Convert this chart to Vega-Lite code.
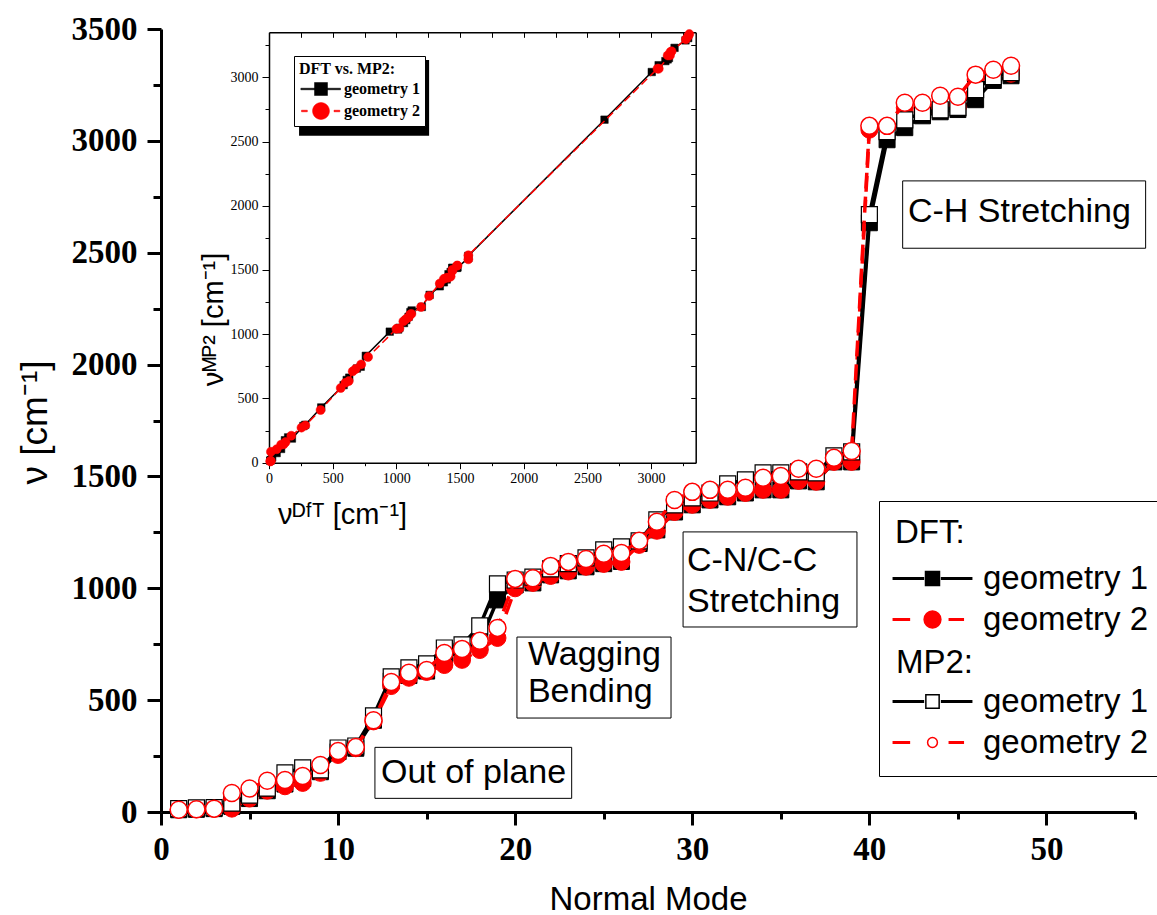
{
  "$schema": "https://vega.github.io/schema/vega-lite/v6.json",
  "width": 974,
  "height": 783,
  "autosize": "none",
  "padding": {"left": 161, "top": 29, "right": 22, "bottom": 103},
  "background": "white",
  "config": {"view": {"stroke": null}, "font": "Liberation Sans"},
  "data": {
    "values": [
      {"mode": 1, "dft1": 10, "dft2": 10, "mp21": 15, "mp22": 10},
      {"mode": 2, "dft1": 12, "dft2": 12, "mp21": 18, "mp22": 12},
      {"mode": 3, "dft1": 15, "dft2": 14, "mp21": 20, "mp22": 15},
      {"mode": 4, "dft1": 25, "dft2": 15, "mp21": 40, "mp22": 85},
      {"mode": 5, "dft1": 60, "dft2": 60, "mp21": 75, "mp22": 105},
      {"mode": 6, "dft1": 95, "dft2": 95, "mp21": 107, "mp22": 140},
      {"mode": 7, "dft1": 125, "dft2": 115, "mp21": 175, "mp22": 143},
      {"mode": 8, "dft1": 150, "dft2": 130, "mp21": 197, "mp22": 161},
      {"mode": 9, "dft1": 180, "dft2": 175, "mp21": 188, "mp22": 210},
      {"mode": 10, "dft1": 270, "dft2": 255, "mp21": 286, "mp22": 273},
      {"mode": 11, "dft1": 285, "dft2": 285, "mp21": 295, "mp22": 290},
      {"mode": 12, "dft1": 410, "dft2": 405, "mp21": 430, "mp22": 410},
      {"mode": 13, "dft1": 586, "dft2": 563, "mp21": 604, "mp22": 581},
      {"mode": 14, "dft1": 610, "dft2": 600, "mp21": 644, "mp22": 622},
      {"mode": 15, "dft1": 630, "dft2": 626, "mp21": 662, "mp22": 635},
      {"mode": 16, "dft1": 690, "dft2": 657, "mp21": 733, "mp22": 711},
      {"mode": 17, "dft1": 720, "dft2": 680, "mp21": 747, "mp22": 729},
      {"mode": 18, "dft1": 760, "dft2": 724, "mp21": 832, "mp22": 765},
      {"mode": 19, "dft1": 948, "dft2": 778, "mp21": 1020, "mp22": 823},
      {"mode": 20, "dft1": 1015, "dft2": 1000, "mp21": 1037, "mp22": 1042},
      {"mode": 21, "dft1": 1024, "dft2": 1024, "mp21": 1050, "mp22": 1045},
      {"mode": 22, "dft1": 1060, "dft2": 1055, "mp21": 1087, "mp22": 1100},
      {"mode": 23, "dft1": 1078, "dft2": 1075, "mp21": 1110, "mp22": 1118},
      {"mode": 24, "dft1": 1096, "dft2": 1096, "mp21": 1136, "mp22": 1131},
      {"mode": 25, "dft1": 1110, "dft2": 1109, "mp21": 1172, "mp22": 1154},
      {"mode": 26, "dft1": 1120, "dft2": 1118, "mp21": 1185, "mp22": 1158},
      {"mode": 27, "dft1": 1200, "dft2": 1194, "mp21": 1212, "mp22": 1212},
      {"mode": 28, "dft1": 1261, "dft2": 1257, "mp21": 1306, "mp22": 1297},
      {"mode": 29, "dft1": 1341, "dft2": 1341, "mp21": 1373, "mp22": 1395},
      {"mode": 30, "dft1": 1373, "dft2": 1373, "mp21": 1404, "mp22": 1431},
      {"mode": 31, "dft1": 1395, "dft2": 1395, "mp21": 1426, "mp22": 1440},
      {"mode": 32, "dft1": 1409, "dft2": 1409, "mp21": 1467, "mp22": 1440},
      {"mode": 33, "dft1": 1426, "dft2": 1426, "mp21": 1485, "mp22": 1449},
      {"mode": 34, "dft1": 1440, "dft2": 1440, "mp21": 1516, "mp22": 1494},
      {"mode": 35, "dft1": 1440, "dft2": 1440, "mp21": 1516, "mp22": 1502},
      {"mode": 36, "dft1": 1480, "dft2": 1480, "mp21": 1520, "mp22": 1534},
      {"mode": 37, "dft1": 1476, "dft2": 1476, "mp21": 1516, "mp22": 1534},
      {"mode": 38, "dft1": 1565, "dft2": 1565, "mp21": 1592, "mp22": 1583},
      {"mode": 39, "dft1": 1565, "dft2": 1565, "mp21": 1610, "mp22": 1614},
      {"mode": 40, "dft1": 2634, "dft2": 3050, "mp21": 2670, "mp22": 3067},
      {"mode": 41, "dft1": 3005, "dft2": 3060, "mp21": 3041, "mp22": 3067},
      {"mode": 42, "dft1": 3059, "dft2": 3148, "mp21": 3094, "mp22": 3170},
      {"mode": 43, "dft1": 3112, "dft2": 3130, "mp21": 3126, "mp22": 3170},
      {"mode": 44, "dft1": 3130, "dft2": 3161, "mp21": 3139, "mp22": 3202},
      {"mode": 45, "dft1": 3140, "dft2": 3152, "mp21": 3150, "mp22": 3197},
      {"mode": 46, "dft1": 3184, "dft2": 3273, "mp21": 3229, "mp22": 3296},
      {"mode": 47, "dft1": 3270, "dft2": 3290, "mp21": 3287, "mp22": 3318},
      {"mode": 48, "dft1": 3291, "dft2": 3300, "mp21": 3305, "mp22": 3336}
    ]
  },
  "layer": [
    {
      "transform": [{"fold": ["dft1", "dft2", "mp21", "mp22"], "as": ["series", "freq"]}],
      "encoding": {
        "x": {
          "field": "mode", "type": "quantitative",
          "scale": {"domain": [0, 55], "nice": false, "zero": false},
          "axis": {
            "orient": "bottom", "title": "Normal Mode", "grid": false,
            "values": [0, 5, 10, 15, 20, 25, 30, 35, 40, 45, 50, 55],
            "labelExpr": "datum.value % 10 === 0 ? datum.label : ''",
            "format": "d",
            "tickSize": {"condition": {"test": "datum.value % 10 === 0", "value": 13}, "value": 7},
            "tickWidth": 3, "tickColor": "black", "domainWidth": 3, "domainColor": "black",
            "labelFont": "Liberation Serif", "labelFontWeight": "bold", "labelFontSize": 33, "labelColor": "black",
            "labelPadding": 8, "labelFlush": false, "labelOverlap": false,
            "titleFont": "Liberation Sans", "titleFontSize": 33, "titleFontWeight": "normal", "titleColor": "black",
            "titleX": 487, "titleY": 97, "titleBaseline": "alphabetic", "titleAlign": "center"
          }
        },
        "y": {
          "field": "freq", "type": "quantitative",
          "scale": {"domain": [0, 3500], "nice": false, "zero": false},
          "axis": {
            "orient": "left", "title": "ν [cm⁻¹]", "grid": false,
            "values": [0, 250, 500, 750, 1000, 1250, 1500, 1750, 2000, 2250, 2500, 2750, 3000, 3250, 3500],
            "labelExpr": "datum.value % 500 === 0 ? datum.label : ''",
            "format": "d",
            "tickSize": {"condition": {"test": "datum.value % 500 === 0", "value": 14}, "value": 8},
            "tickWidth": 3, "tickColor": "black", "domainWidth": 3, "domainColor": "black",
            "labelFont": "Liberation Serif", "labelFontWeight": "bold", "labelFontSize": 33, "labelColor": "black",
            "labelPadding": 10, "labelFlush": false, "labelOverlap": false,
            "titleFont": "Liberation Sans", "titleFontSize": 37, "titleFontWeight": "normal", "titleColor": "black",
            "titleX": -115, "titleY": 393, "titleAngle": 270, "titleBaseline": "alphabetic", "titleAlign": "center"
          }
        }
      },
      "layer": [
        {
          "transform": [{"filter": "datum.series === 'dft1'"}],
          "mark": {"type": "line", "stroke": "black", "strokeWidth": 3.5}
        },
        {
          "transform": [{"filter": "datum.series === 'dft1'"}],
          "mark": {"type": "point", "shape": "square", "size": 256, "fill": "black", "stroke": "black", "strokeWidth": 1, "opacity": 1}
        },
        {
          "transform": [{"filter": "datum.series === 'dft2'"}],
          "mark": {"type": "line", "stroke": "#ff0000", "strokeWidth": 3.5, "strokeDash": [16, 8]}
        },
        {
          "transform": [{"filter": "datum.series === 'dft2'"}],
          "mark": {"type": "point", "shape": "circle", "size": 289, "fill": "#ff0000", "stroke": "#ff0000", "strokeWidth": 1, "opacity": 1}
        },
        {
          "transform": [{"filter": "datum.series === 'mp21'"}],
          "mark": {"type": "line", "stroke": "black", "strokeWidth": 3.5}
        },
        {
          "transform": [{"filter": "datum.series === 'mp21'"}],
          "mark": {"type": "point", "shape": "square", "size": 256, "fill": "white", "stroke": "black", "strokeWidth": 1.2, "opacity": 1}
        },
        {
          "transform": [{"filter": "datum.series === 'mp22'"}],
          "mark": {"type": "line", "stroke": "#ff0000", "strokeWidth": 3.5, "strokeDash": [16, 8]}
        },
        {
          "transform": [{"filter": "datum.series === 'mp22'"}],
          "mark": {"type": "point", "shape": "circle", "size": 289, "fill": "white", "stroke": "#ff0000", "strokeWidth": 1.5, "opacity": 1}
        },
        {
          "transform": [{"filter": "datum.mode < 0"}],
          "mark": {"type": "point", "opacity": 1},
          "encoding": {
            "shape": {
              "field": "series", "type": "nominal",
              "scale": {
                "domain": ["DFT geometry 1", "DFT geometry 2", "MP2:", "MP2 geometry 1", "MP2 geometry 2"],
                "range": [
                  "M-1,-1H1V1H-1Z M-5.6,-0.1H-1.3V0.1H-5.6Z M1.3,-0.1H5.6V0.1H1.3Z",
                  "M-1.2,0A1.2,1.2,0,1,1,1.2,0A1.2,1.2,0,1,1,-1.2,0Z M-5.6,-0.1H-3.3V0.1H-5.6Z M2.4,-0.1H4.4V0.1H2.4Z",
                  "M0,0",
                  "M-0.95,-0.95H0.95V0.95H-0.95Z M-5.6,-0.1H-1.3V0.1H-5.6Z M1.3,-0.1H5.6V0.1H1.3Z",
                  "M-0.7,0A0.7,0.7,0,1,1,0.7,0A0.7,0.7,0,1,1,-0.7,0Z M-5.6,-0.1H-3.3V0.1H-5.6Z M2.4,-0.1H4.4V0.1H2.4Z"
                ]
              },
              "legend": {
                "title": "DFT:", "orient": "none", "legendX": 718, "legendY": 472,
                "padding": 16, "strokeColor": "black", "cornerRadius": 0,
                "titleFont": "Liberation Sans", "titleFontSize": 33, "titleFontWeight": "normal", "titleColor": "black", "titlePadding": 12,
                "labelFont": "Liberation Sans", "labelFontSize": 33, "labelColor": "black", "labelLimit": 400,
                "labelExpr": "datum.label === 'MP2:' ? '' : slice(datum.label, 4)",
                "symbolSize": 196, "symbolStrokeWidth": 1.5, "symbolOffset": 21, "labelOffset": 34, "rowPadding": 7
              }
            },
            "fill": {
              "field": "series", "type": "nominal",
              "scale": {
                "domain": ["DFT geometry 1", "DFT geometry 2", "MP2:", "MP2 geometry 1", "MP2 geometry 2"],
                "range": ["black", "#ff0000", "transparent", "white", "white"]
              }
            },
            "stroke": {
              "field": "series", "type": "nominal",
              "scale": {
                "domain": ["DFT geometry 1", "DFT geometry 2", "MP2:", "MP2 geometry 1", "MP2 geometry 2"],
                "range": ["black", "#ff0000", "transparent", "black", "#ff0000"]
              }
            }
          }
        },
        {
          "data": {
            "values": [
              {"mode": 12.08, "mode_end": 23.19, "freq": 289, "freq_end": 61},
              {"mode": 20.1, "mode_end": 28.8, "freq": 782, "freq_end": 420},
              {"mode": 29.48, "mode_end": 39.3, "freq": 1252, "freq_end": 827},
              {"mode": 41.88, "mode_end": 55.6, "freq": 2821, "freq_end": 2520}
            ]
          },
          "mark": {"type": "rect", "fill": "white", "stroke": "black", "strokeWidth": 1},
          "encoding": {
            "x2": {"field": "mode_end"},
            "y2": {"field": "freq_end"}
          }
        },
        {
          "data": {
            "values": [
              {"mode": 12.42, "freq": 174, "label": "Out of plane"},
              {"mode": 20.72, "freq": 702, "label": "Wagging"},
              {"mode": 20.72, "freq": 536, "label": "Bending"},
              {"mode": 29.7, "freq": 1122, "label": "C-N/C-C"},
              {"mode": 29.7, "freq": 939, "label": "Stretching"},
              {"mode": 42.18, "freq": 2682, "label": "C-H Stretching"}
            ]
          },
          "mark": {"type": "text", "align": "left", "baseline": "middle", "font": "Liberation Sans", "fontSize": 34, "color": "black"},
          "encoding": {"text": {"field": "label"}}
        },
        {
          "data": {"values": [{"mode": 41.5, "freq": 666, "label": "MP2:"}]},
          "mark": {"type": "text", "align": "left", "baseline": "middle", "font": "Liberation Sans", "fontSize": 33, "color": "black"},
          "encoding": {"text": {"field": "label"}}
        }
      ]
    },
    {
      "layer": [
        {
          "encoding": {
            "x": {
              "field": "dft1", "type": "quantitative",
              "scale": {"domain": [0, 3350], "nice": false, "zero": false, "range": [108, 534.7]},
              "axis": {
                "orient": "bottom", "offset": -349.3, "grid": false,
                "values": [0, 250, 500, 750, 1000, 1250, 1500, 1750, 2000, 2250, 2500, 2750, 3000, 3250],
                "labelExpr": "datum.value % 500 === 0 ? datum.label : ''", "format": "d",
                "tickSize": {"condition": {"test": "datum.value % 500 === 0", "value": 6}, "value": 3},
                "tickColor": "black", "tickWidth": 1, "domainColor": "black", "domainWidth": 1.5,
                "labelFont": "Liberation Serif", "labelFontSize": 14, "labelColor": "black", "labelPadding": 3,
                "labelFlush": false, "labelOverlap": false,
                "title": "νᴰᶠᵀ [cm⁻¹]", "titleFont": "Liberation Sans", "titleFontSize": 29, "titleFontWeight": "normal", "titleColor": "black",
                "titleX": 181, "titleY": 61, "titleBaseline": "alphabetic", "titleAlign": "center"
              }
            },
            "y": {
              "field": "mp21", "type": "quantitative",
              "scale": {"domain": [0, 3350], "nice": false, "zero": false, "range": [433.7, 3.3]},
              "axis": {
                "orient": "left", "offset": -108, "grid": false,
                "values": [0, 250, 500, 750, 1000, 1250, 1500, 1750, 2000, 2250, 2500, 2750, 3000, 3250],
                "labelExpr": "datum.value % 500 === 0 ? datum.label : ''", "format": "d",
                "tickSize": {"condition": {"test": "datum.value % 500 === 0", "value": 7}, "value": 4},
                "tickColor": "black", "tickWidth": 1, "domainColor": "black", "domainWidth": 1.5,
                "labelFont": "Liberation Serif", "labelFontSize": 14, "labelColor": "black", "labelPadding": 4,
                "labelFlush": false, "labelOverlap": false,
                "title": "νᴹᴾ² [cm⁻¹]", "titleFont": "Liberation Sans", "titleFontSize": 29, "titleFontWeight": "normal", "titleColor": "black",
                "titleX": -47, "titleY": 290, "titleAngle": 270, "titleBaseline": "alphabetic", "titleAlign": "center"
              }
            }
          },
          "layer": [
            {
              "data": {"values": [{"dft1": 236, "dft1_end": 1257, "mp21": 3135, "mp21_end": 2545}]},
              "mark": {"type": "rect", "fill": "black"},
              "encoding": {"x2": {"field": "dft1_end"}, "y2": {"field": "mp21_end"}}
            },
            {
              "mark": {"type": "line", "stroke": "black", "strokeWidth": 1.5},
              "encoding": {"order": {"field": "mode", "type": "quantitative"}}
            },
            {
              "mark": {"type": "point", "shape": "square", "size": 56, "fill": "black", "stroke": "black", "strokeWidth": 0.5, "opacity": 1}
            },
            {
              "mark": {"type": "line", "stroke": "#ff0000", "strokeWidth": 1.5, "strokeDash": [8, 4]},
              "encoding": {
                "x": {
                  "field": "dft2", "type": "quantitative",
                  "scale": {"domain": [0, 3350], "nice": false, "zero": false, "range": [108, 534.7]},
                  "axis": {
                    "orient": "bottom", "offset": -349.3, "grid": false,
                    "values": [0, 250, 500, 750, 1000, 1250, 1500, 1750, 2000, 2250, 2500, 2750, 3000, 3250],
                    "labelExpr": "datum.value % 500 === 0 ? datum.label : ''", "format": "d",
                    "tickSize": {"condition": {"test": "datum.value % 500 === 0", "value": 6}, "value": 3},
                    "tickColor": "black", "tickWidth": 1, "domainColor": "black", "domainWidth": 1.5,
                    "labelFont": "Liberation Serif", "labelFontSize": 14, "labelColor": "black", "labelPadding": 3,
                    "labelFlush": false, "labelOverlap": false,
                    "title": "νᴰᶠᵀ [cm⁻¹]", "titleFont": "Liberation Sans", "titleFontSize": 29, "titleFontWeight": "normal", "titleColor": "black",
                    "titleX": 181, "titleY": 61, "titleBaseline": "alphabetic", "titleAlign": "center"
                  }
                },
                "y": {
                  "field": "mp22", "type": "quantitative",
                  "scale": {"domain": [0, 3350], "nice": false, "zero": false, "range": [433.7, 3.3]},
                  "axis": {
                    "orient": "left", "offset": -108, "grid": false,
                    "values": [0, 250, 500, 750, 1000, 1250, 1500, 1750, 2000, 2250, 2500, 2750, 3000, 3250],
                    "labelExpr": "datum.value % 500 === 0 ? datum.label : ''", "format": "d",
                    "tickSize": {"condition": {"test": "datum.value % 500 === 0", "value": 7}, "value": 4},
                    "tickColor": "black", "tickWidth": 1, "domainColor": "black", "domainWidth": 1.5,
                    "labelFont": "Liberation Serif", "labelFontSize": 14, "labelColor": "black", "labelPadding": 4,
                    "labelFlush": false, "labelOverlap": false,
                    "title": "νᴹᴾ² [cm⁻¹]", "titleFont": "Liberation Sans", "titleFontSize": 29, "titleFontWeight": "normal", "titleColor": "black",
                    "titleX": -47, "titleY": 290, "titleAngle": 270, "titleBaseline": "alphabetic", "titleAlign": "center"
                  }
                },
                "order": {"field": "mode", "type": "quantitative"}
              }
            },
            {
              "mark": {"type": "point", "shape": "circle", "size": 81, "fill": "#ff0000", "stroke": "#ff0000", "strokeWidth": 0.5, "opacity": 1},
              "encoding": {
                "x": {
                  "field": "dft2", "type": "quantitative",
                  "scale": {"domain": [0, 3350], "nice": false, "zero": false, "range": [108, 534.7]},
                  "axis": {
                    "orient": "bottom", "offset": -349.3, "grid": false,
                    "values": [0, 250, 500, 750, 1000, 1250, 1500, 1750, 2000, 2250, 2500, 2750, 3000, 3250],
                    "labelExpr": "datum.value % 500 === 0 ? datum.label : ''", "format": "d",
                    "tickSize": {"condition": {"test": "datum.value % 500 === 0", "value": 6}, "value": 3},
                    "tickColor": "black", "tickWidth": 1, "domainColor": "black", "domainWidth": 1.5,
                    "labelFont": "Liberation Serif", "labelFontSize": 14, "labelColor": "black", "labelPadding": 3,
                    "labelFlush": false, "labelOverlap": false,
                    "title": "νᴰᶠᵀ [cm⁻¹]", "titleFont": "Liberation Sans", "titleFontSize": 29, "titleFontWeight": "normal", "titleColor": "black",
                    "titleX": 181, "titleY": 61, "titleBaseline": "alphabetic", "titleAlign": "center"
                  }
                },
                "y": {
                  "field": "mp22", "type": "quantitative",
                  "scale": {"domain": [0, 3350], "nice": false, "zero": false, "range": [433.7, 3.3]},
                  "axis": {
                    "orient": "left", "offset": -108, "grid": false,
                    "values": [0, 250, 500, 750, 1000, 1250, 1500, 1750, 2000, 2250, 2500, 2750, 3000, 3250],
                    "labelExpr": "datum.value % 500 === 0 ? datum.label : ''", "format": "d",
                    "tickSize": {"condition": {"test": "datum.value % 500 === 0", "value": 7}, "value": 4},
                    "tickColor": "black", "tickWidth": 1, "domainColor": "black", "domainWidth": 1.5,
                    "labelFont": "Liberation Serif", "labelFontSize": 14, "labelColor": "black", "labelPadding": 4,
                    "labelFlush": false, "labelOverlap": false,
                    "title": "νᴹᴾ² [cm⁻¹]", "titleFont": "Liberation Sans", "titleFontSize": 29, "titleFontWeight": "normal", "titleColor": "black",
                    "titleX": -47, "titleY": 290, "titleAngle": 270, "titleBaseline": "alphabetic", "titleAlign": "center"
                  }
                }
              }
            },
            {
              "transform": [{"filter": "datum.mode < 0"}],
              "mark": {"type": "point", "opacity": 1},
              "encoding": {
                "shape": {
                  "field": "geometry", "type": "nominal",
                  "scale": {
                    "domain": ["geometry 1", "geometry 2"],
                    "range": [
                      "M-1,-1H1V1H-1Z M-3.1,-0.12H3V0.12H-3.1Z",
                      "M-1.3,0A1.3,1.3,0,1,1,1.3,0A1.3,1.3,0,1,1,-1.3,0Z M-3,-0.12H-2.1V0.12H-3Z M2,-0.12H2.9V0.12H2Z"
                    ]
                  },
                  "legend": {
                    "title": "DFT vs. MP2:", "orient": "none", "legendX": 133, "legendY": 27,
                    "padding": 5, "strokeColor": "black", "fillColor": "white", "cornerRadius": 0,
                    "titleFont": "Liberation Serif", "titleFontSize": 16, "titleFontWeight": "bold", "titleColor": "black", "titlePadding": 4,
                    "labelFont": "Liberation Serif", "labelFontSize": 16, "labelFontWeight": "bold", "labelColor": "black",
                    "symbolSize": 169, "symbolStrokeWidth": 0.5, "symbolOffset": 14, "labelOffset": 15, "rowPadding": 4
                  }
                },
                "fill": {
                  "field": "geometry", "type": "nominal",
                  "scale": {"domain": ["geometry 1", "geometry 2"], "range": ["black", "#ff0000"]}
                },
                "stroke": {
                  "field": "geometry", "type": "nominal",
                  "scale": {"domain": ["geometry 1", "geometry 2"], "range": ["black", "#ff0000"]}
                }
              }
            }
          ]
        },
        {
          "mark": {"type": "point", "opacity": 0},
          "encoding": {
            "x": {
              "field": "dft1", "type": "quantitative",
              "scale": {"domain": [0, 3350], "nice": false, "zero": false, "range": [108, 534.7]},
              "axis": {
                "orient": "top", "offset": -3.3, "grid": false, "labels": false, "title": null,
                "values": [0, 250, 500, 750, 1000, 1250, 1500, 1750, 2000, 2250, 2500, 2750, 3000, 3250],
                "tickSize": -5, "tickColor": "black", "tickWidth": 1, "domainColor": "black", "domainWidth": 1.5
              }
            },
            "y": {
              "field": "mp21", "type": "quantitative",
              "scale": {"domain": [0, 3350], "nice": false, "zero": false, "range": [433.7, 3.3]},
              "axis": {
                "orient": "right", "offset": -439.3, "grid": false, "labels": false, "title": null,
                "values": [0, 250, 500, 750, 1000, 1250, 1500, 1750, 2000, 2250, 2500, 2750, 3000, 3250],
                "tickSize": -5, "tickColor": "black", "tickWidth": 1, "domainColor": "black", "domainWidth": 1.5
              }
            }
          }
        }
      ],
      "resolve": {"axis": {"x": "independent", "y": "independent"}}
    }
  ],
  "resolve": {
    "scale": {"x": "independent", "y": "independent", "shape": "independent", "fill": "independent", "stroke": "independent"},
    "axis": {"x": "independent", "y": "independent"},
    "legend": {"shape": "independent", "fill": "independent", "stroke": "independent"}
  }
}
